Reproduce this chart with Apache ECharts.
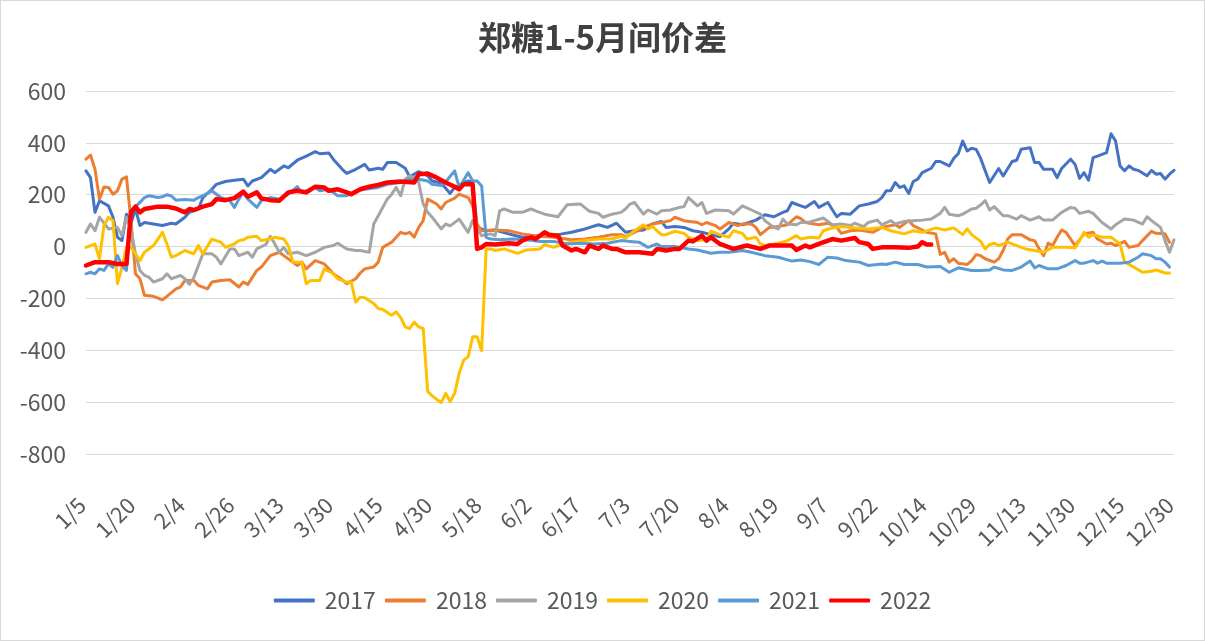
<!DOCTYPE html>
<html>
<head>
<meta charset="utf-8">
<script src="https://cdn.jsdelivr.net/npm/echarts@6/dist/echarts.min.js"></script>
<style>
html,body{margin:0;padding:0;background:#fff;}
#c{width:1203px;height:639px;border:1px solid #d9d9d9;}
</style>
</head>
<body>
<div id="c"></div>
<script>
// x tick labels (one every 11 trading days, 243 trading days in total)
const tickLabels = ['1/5','1/20','2/4','2/26','3/13','3/30','4/15','4/30','5/18','6/2','6/17','7/3','7/20','8/4','8/19','9/7','9/22','10/14','10/29','11/13','11/30','12/15','12/30'];
const dayCount = 243;
const seriesNames = ['2017','2018','2019','2020','2021','2022'];
const seriesColors = ['#4472C4','#ED7D31','#A5A5A5','#FFC000','#5B9BD5','#FF0000'];

// [trading-day index, spread]
const s2017 = [[0,292],[1,266],[2,132],[3,177],[5,157],[6,113],[7,36],[8,23],[9,125],[10,90],[11,145],[12,81],[13,93],[16,84],[17,81],[19,90],[20,87],[22,113],[23,132],[25,145],[26,189],[28,221],[29,240],[31,251],[33,256],[35,260],[36,234],[37,253],[39,266],[41,298],[42,286],[44,311],[45,304],[47,333],[49,349],[51,366],[52,358],[54,361],[55,337],[57,298],[58,282],[60,298],[62,317],[63,295],[65,302],[66,298],[67,324],[69,324],[71,302],[72,269],[74,289],[76,273],[77,253],[79,245],[81,205],[82,228],[85,253],[86,247],[87,74],[89,61],[91,64],[94,49],[97,36],[101,42],[105,46],[108,55],[111,68],[114,84],[116,74],[118,90],[120,55],[122,61],[124,64],[126,87],[128,97],[129,74],[131,77],[133,74],[135,61],[137,55],[139,46],[141,38],[143,68],[144,90],[146,84],[147,90],[149,102],[151,123],[153,115],[155,132],[156,138],[157,170],[159,157],[160,151],[162,174],[163,151],[165,170],[167,115],[168,128],[170,125],[172,157],[174,164],[176,174],[177,189],[178,215],[179,215],[180,247],[181,228],[182,234],[183,205],[184,251],[185,260],[186,285],[188,302],[189,328],[190,328],[192,311],[193,340],[194,358],[195,407],[196,369],[197,379],[198,375],[199,340],[200,292],[201,247],[203,301],[204,272],[206,328],[207,333],[208,375],[210,381],[211,324],[212,324],[213,298],[215,298],[216,266],[217,301],[219,337],[220,317],[221,263],[222,285],[223,256],[224,343],[225,349],[227,362],[228,435],[229,407],[230,311],[231,292],[232,311],[233,298],[234,294],[236,273],[237,294],[238,279],[239,282],[240,260],[241,279],[242,294]];
const s2018 = [[0,337],[1,353],[2,298],[3,183],[4,230],[5,228],[6,202],[7,215],[8,260],[9,269],[10,100],[11,-105],[12,-124],[13,-188],[15,-192],[17,-205],[18,-192],[20,-163],[21,-156],[22,-131],[24,-131],[25,-150],[27,-163],[28,-137],[30,-131],[32,-128],[34,-156],[35,-137],[36,-146],[38,-92],[39,-79],[41,-35],[43,-22],[44,-35],[46,-60],[47,-73],[48,-60],[49,-86],[51,-54],[53,-67],[54,-86],[55,-105],[57,-128],[58,-143],[60,-124],[61,-102],[62,-86],[64,-79],[65,-60],[66,-3],[68,17],[69,36],[70,55],[71,49],[72,55],[73,36],[74,74],[75,100],[76,183],[78,164],[79,145],[80,170],[82,187],[83,202],[85,189],[86,157],[87,87],[88,61],[91,64],[94,61],[97,49],[100,42],[104,36],[108,26],[111,29],[114,36],[117,46],[119,46],[120,38],[122,55],[124,74],[126,87],[128,93],[130,100],[131,113],[133,100],[136,93],[137,84],[138,93],[140,81],[141,68],[143,93],[145,81],[146,87],[148,87],[149,74],[150,46],[152,74],[154,77],[156,84],[158,115],[159,108],[160,93],[163,84],[165,90],[167,74],[168,51],[170,61],[172,64],[175,55],[177,74],[180,84],[181,74],[183,100],[184,81],[186,64],[187,55],[189,49],[190,-30],[191,-22],[192,-60],[193,-47],[194,-64],[196,-69],[197,-54],[198,-31],[199,-35],[200,-47],[202,-60],[203,-47],[204,-15],[205,29],[206,46],[208,46],[210,26],[211,23],[212,-9],[213,-35],[214,13],[215,4],[216,36],[217,64],[218,55],[220,4],[221,26],[222,49],[224,55],[225,29],[227,10],[228,13],[229,4],[231,20],[232,-3],[234,4],[235,23],[237,59],[238,51],[240,49],[241,17]];
const s2019 = [[0,55],[1,87],[2,61],[3,113],[5,68],[7,74],[8,42],[9,113],[10,68],[11,-28],[12,-92],[13,-111],[14,-118],[15,-137],[17,-124],[18,-105],[19,-124],[21,-111],[22,-124],[23,-146],[24,-118],[26,-28],[28,-28],[29,-41],[30,-67],[32,-9],[33,-9],[34,-35],[36,-22],[37,-41],[38,-9],[40,8],[41,40],[42,10],[43,-22],[44,-3],[45,-28],[47,-22],[49,-35],[51,-22],[53,-3],[55,4],[56,13],[58,-9],[60,-15],[61,-15],[63,-22],[64,87],[65,119],[67,183],[68,202],[69,228],[70,196],[71,260],[72,273],[73,266],[74,247],[75,164],[76,132],[77,113],[79,68],[80,87],[81,80],[83,106],[85,55],[86,100],[87,68],[88,42],[90,49],[91,42],[92,138],[93,145],[95,132],[97,132],[99,145],[100,138],[102,125],[105,115],[107,161],[110,164],[112,136],[114,128],[115,113],[117,125],[119,132],[120,145],[121,164],[122,170],[124,125],[125,141],[127,125],[128,138],[130,141],[132,151],[133,154],[134,189],[136,157],[137,170],[138,128],[140,141],[143,138],[144,125],[146,157],[148,141],[150,125],[151,100],[153,74],[154,68],[155,106],[156,87],[158,84],[159,93],[161,95],[162,100],[164,110],[166,84],[168,87],[170,81],[171,90],[173,77],[174,93],[176,102],[177,84],[179,100],[180,87],[182,97],[184,100],[186,102],[188,106],[190,128],[191,151],[192,125],[194,119],[195,125],[197,145],[198,148],[199,161],[200,177],[201,141],[202,154],[204,119],[205,119],[207,106],[208,119],[210,102],[212,115],[213,102],[215,102],[217,132],[219,151],[220,148],[221,128],[223,136],[224,128],[226,93],[228,68],[229,84],[231,106],[233,102],[235,87],[236,115],[237,100],[239,74],[240,23],[241,-22],[242,26]];
const s2020 = [[0,-3],[2,10],[3,-47],[4,81],[5,113],[6,100],[7,-143],[8,-79],[9,-3],[10,-3],[11,-28],[12,-54],[13,-22],[15,4],[16,29],[17,55],[18,10],[19,-41],[20,-35],[22,-15],[23,-22],[24,-28],[25,4],[26,-28],[28,29],[30,17],[31,-3],[33,10],[34,23],[35,26],[36,36],[38,40],[39,23],[41,30],[42,36],[44,29],[45,4],[46,-60],[48,-60],[49,-143],[50,-131],[52,-131],[53,-86],[55,-105],[56,-124],[58,-137],[59,-137],[60,-214],[61,-195],[62,-197],[64,-220],[65,-239],[66,-243],[68,-265],[69,-252],[70,-274],[71,-310],[72,-316],[73,-291],[74,-310],[75,-316],[76,-559],[77,-576],[79,-602],[80,-566],[81,-598],[82,-566],[83,-489],[84,-438],[85,-425],[86,-348],[87,-348],[88,-402],[89,-9],[90,-9],[91,-15],[93,-9],[96,-26],[98,-13],[101,-9],[102,8],[104,-3],[106,10],[108,17],[111,23],[114,29],[117,29],[119,40],[120,33],[122,61],[124,84],[125,68],[126,77],[128,46],[129,46],[131,59],[133,51],[134,36],[136,23],[138,26],[139,59],[141,46],[143,36],[144,61],[146,51],[147,29],[149,36],[150,10],[151,4],[154,13],[156,23],[158,42],[159,29],[161,36],[163,33],[164,61],[166,72],[168,77],[171,72],[174,68],[177,74],[179,61],[182,49],[184,61],[186,55],[189,72],[191,64],[193,72],[195,46],[196,68],[197,46],[199,20],[200,-9],[201,8],[202,13],[203,4],[205,17],[207,4],[209,-9],[211,-15],[213,-22],[215,-3],[218,-3],[220,-5],[221,23],[222,55],[223,36],[224,46],[226,36],[228,36],[230,10],[231,-60],[233,-79],[235,-99],[237,-95],[238,-90],[240,-102],[241,-102]];
const s2021 = [[0,-105],[1,-99],[2,-105],[3,-86],[4,-92],[5,-67],[6,-80],[7,-35],[8,-73],[9,-92],[10,140],[12,170],[13,189],[14,196],[16,189],[17,192],[18,200],[19,195],[20,179],[22,182],[24,179],[25,189],[26,196],[28,215],[29,202],[30,189],[32,177],[33,151],[34,183],[35,209],[36,183],[38,151],[39,177],[41,189],[43,183],[45,202],[47,231],[48,209],[51,228],[52,215],[54,221],[56,196],[58,196],[60,215],[62,221],[65,228],[67,240],[70,247],[72,260],[74,260],[76,253],[77,240],[79,235],[80,250],[82,292],[83,228],[85,285],[86,253],[87,253],[88,234],[89,36],[90,29],[92,26],[95,29],[98,26],[101,20],[104,20],[107,10],[110,13],[113,10],[116,13],[119,23],[121,20],[123,17],[125,-3],[127,10],[128,0],[131,0],[134,-9],[136,-13],[139,-26],[141,-22],[143,-22],[146,-15],[148,-22],[151,-35],[154,-41],[157,-56],[159,-52],[161,-58],[163,-69],[165,-41],[167,-44],[169,-54],[172,-60],[174,-73],[177,-67],[178,-69],[180,-60],[182,-69],[185,-69],[187,-79],[190,-77],[192,-99],[194,-82],[197,-92],[199,-92],[201,-90],[202,-79],[204,-90],[206,-92],[208,-79],[210,-56],[211,-82],[212,-73],[214,-86],[216,-86],[218,-73],[220,-54],[221,-64],[222,-64],[224,-54],[225,-64],[226,-56],[227,-64],[230,-64],[232,-60],[234,-41],[235,-28],[237,-35],[238,-47],[239,-47],[240,-60],[241,-79]];
const s2022 = [[0,-73],[2,-60],[5,-60],[7,-67],[9,-67],[10,132],[11,154],[12,132],[13,145],[16,154],[18,154],[20,147],[22,132],[23,145],[24,141],[26,154],[28,164],[29,183],[31,179],[33,187],[35,212],[36,192],[38,209],[39,186],[41,179],[43,177],[45,209],[47,215],[49,209],[51,231],[53,228],[54,215],[56,221],[58,209],[59,202],[61,221],[63,231],[65,238],[67,247],[70,251],[73,247],[74,279],[76,282],[78,266],[80,247],[82,231],[83,221],[84,240],[86,240],[87,-9],[88,-3],[89,10],[91,8],[94,13],[96,10],[97,23],[99,36],[100,29],[102,55],[103,46],[105,42],[106,4],[108,-15],[109,-9],[111,-22],[112,4],[114,-9],[115,4],[117,-9],[118,-9],[120,-22],[123,-22],[126,-28],[127,-9],[129,-15],[131,-9],[132,-9],[134,23],[135,20],[137,42],[138,23],[139,36],[141,10],[144,-9],[147,4],[150,-9],[152,4],[157,4],[158,-13],[160,4],[161,-3],[163,10],[166,29],[168,23],[171,33],[172,17],[174,10],[175,-9],[177,-3],[180,-3],[183,-5],[185,0],[186,17],[187,8],[188,8]];

const allData = [s2017, s2018, s2019, s2020, s2021, s2022];
const categories = [];
for (let i = 0; i < dayCount; i++) categories.push(i % 11 === 0 ? tickLabels[i / 11] : 'd' + i);

const font = '"Noto Sans CJK SC", "Noto Sans", sans-serif';
const chart = echarts.init(document.getElementById('c'), null, {renderer: 'canvas'});
chart.setOption({
  animation: false,
  backgroundColor: '#fff',
  title: {
    text: '郑糖1-5月间价差',
    left: 'center',
    top: 15,
    textStyle: {fontFamily: font, fontSize: 33, fontWeight: 'bold', color: '#404040'}
  },
  legend: {
    data: seriesNames,
    top: 583,
    left: 'center',
    icon: 'roundRect',
    itemWidth: 41,
    itemHeight: 4,
    itemGap: 9,
    textStyle: {fontFamily: font, fontSize: 23, color: '#595959', padding: [0, 0, 0, 5]}
  },
  grid: {left: 85, right: 30, top: 90, bottom: 186, containLabel: false},
  xAxis: {
    type: 'category',
    data: categories,
    boundaryGap: false,
    axisLine: {show: false},
    axisTick: {show: false},
    axisLabel: {
      interval: function (idx) { return idx % 11 === 0; },
      rotate: 45,
      margin: 43,
      padding: [0, 6, 0, 0],
      fontFamily: font,
      fontSize: 22,
      color: '#595959'
    },
    splitLine: {show: false}
  },
  yAxis: {
    type: 'value',
    min: -800,
    max: 600,
    interval: 200,
    axisLine: {show: false},
    axisTick: {show: false},
    axisLabel: {fontFamily: font, fontSize: 23, color: '#595959', margin: 20},
    splitLine: {lineStyle: {color: '#d9d9d9', width: 1}}
  },
  series: seriesNames.map(function (name, k) {
    return {
      name: name,
      type: 'line',
      data: allData[k],
      symbol: 'none',
      showSymbol: false,
      color: seriesColors[k],
      lineStyle: {width: k === 5 ? 4.5 : 3, color: seriesColors[k], cap: 'round', join: 'round'},
      emphasis: {disabled: true}
    };
  })
});
</script>
</body>
</html>
